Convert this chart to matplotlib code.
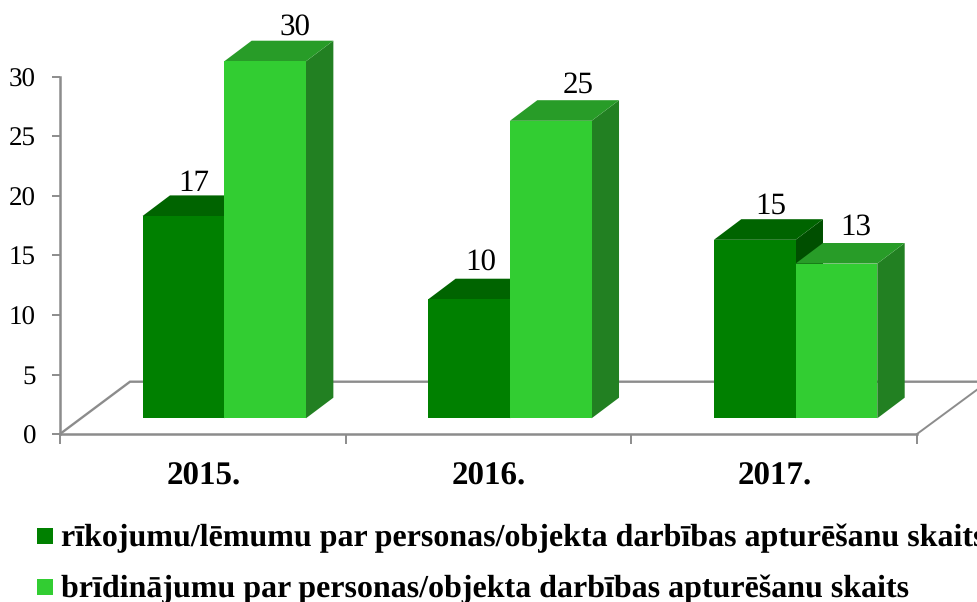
import matplotlib
matplotlib.use("Agg")
import matplotlib.pyplot as plt
from matplotlib.patches import Polygon, Rectangle

years = ["2015.", "2016.", "2017."]
orders = [17, 10, 15]
warnings = [30, 25, 13]
order_label = "rīkojumu/lēmumu par personas/objekta darbības apturēšanu skaits"
warning_label = "brīdinājumu par personas/objekta darbības apturēšanu skaits"
y_ticks = [0, 5, 10, 15, 20, 25, 30]

W, H = 978, 602
plt.rcParams["font.family"] = ["Liberation Serif", "DejaVu Serif"]
plt.rcParams["text.hinting"] = "no_hinting"
plt.rcParams["text.hinting_factor"] = 1
fig = plt.figure(figsize=(W / 100, H / 100), dpi=100)
x0, x1, y0, y30 = 60, 917, 434, 77
ax = fig.add_axes([x0 / W, 1 - y0 / H, (x1 - x0) / W, (y0 - y30) / H])
ax.set_xlim(0, 3)
ax.set_ylim(0, 30)
ax.patch.set_visible(False)

px_x = 3 / (x1 - x0)
px_y = 30 / (y0 - y30)
dx = 27.4 * px_x
dy = 20.6 * px_y
base = 15.7 * px_y
bw = 81.7 * px_x
centre = 0.5750
grey = "#8c8c8c"
# label nudges in pixels (right, down) relative to the centre of each bar's top
nudge_a = [(-3, 5), (-2, 1), (2, 4)]
nudge_b = [(16, 4), (14, 2), (6, 1)]


def box(x, v, front, top, side):
    t = base + v
    ax.add_patch(Polygon([(x + bw, base), (x + bw + dx, base + dy), (x + bw + dx, t + dy), (x + bw, t)],
                         facecolor=side, edgecolor="none", clip_on=False, zorder=3))
    ax.add_patch(Polygon([(x, t), (x + dx, t + dy), (x + bw + dx, t + dy), (x + bw, t)],
                         facecolor=top, edgecolor="none", clip_on=False, zorder=3))
    ax.bar(x, v, width=bw, bottom=base, align="edge", color=front, linewidth=0, zorder=3, clip_on=False)
    return t


# floor
floor_x = 70 * px_x
floor_y = 52.3 * px_y
ax.plot([0, floor_x, 3 + (978 - x1) * px_x], [0, floor_y, floor_y], color=grey, lw=1.7, clip_on=False, zorder=1,
        solid_joinstyle="miter")
ax.plot([3, 3 + 61 * px_x], [0, 45 * px_y], color=grey, lw=1.4, clip_on=False, zorder=1)

for i in range(3):
    xa = i + centre - bw
    xb = i + centre
    ta = box(xa, orders[i], "#008000", "#006400", "#004f00")
    tb = box(xb, warnings[i], "#32CD32", "#289C28", "#228022")
    ax.text(xa + bw / 2 + dx / 2 + nudge_a[i][0] * px_x, ta + dy + 0.25 - nudge_a[i][1] * px_y, str(orders[i]),
            ha="center", va="bottom", fontsize=22.5, zorder=5)
    ax.text(xb + bw / 2 + dx / 2 + nudge_b[i][0] * px_x, tb + dy + 0.25 - nudge_b[i][1] * px_y, str(warnings[i]),
            ha="center", va="bottom", fontsize=22.5, zorder=5)

for s in ("top", "right"):
    ax.spines[s].set_visible(False)
for s in ("left", "bottom"):
    ax.spines[s].set_color(grey)
    ax.spines[s].set_linewidth(1.8)
ax.set_yticks(y_ticks)
ax.tick_params(axis="y", length=5.8, width=1.4, color=grey, labelsize=19.5, pad=11.5)
ax.set_xticks([0, 1, 2, 3], minor=False)
ax.set_xticklabels([])
ax.tick_params(axis="x", length=7, width=1.4, color=grey)
for i, y in enumerate(years):
    ax.text(i + 0.5 + 0.002, -0.118, y, transform=ax.get_xaxis_transform(), ha="center", va="center",
            fontsize=23.5, fontweight="bold")

# legend
for label, colour, yp in ((order_label, "#008000", 536), (warning_label, "#32CD32", 587)):
    fig.add_artist(Rectangle((37 / W, 1 - (yp + 8) / H), 16 / W, 16 / H, transform=fig.transFigure,
                             facecolor=colour, edgecolor="none"))
    fig.text(61 / W, 1 - (yp + 2) / H, label, ha="left", va="center", fontsize=23, fontweight="bold")

fig.savefig("out.png", dpi=100)
